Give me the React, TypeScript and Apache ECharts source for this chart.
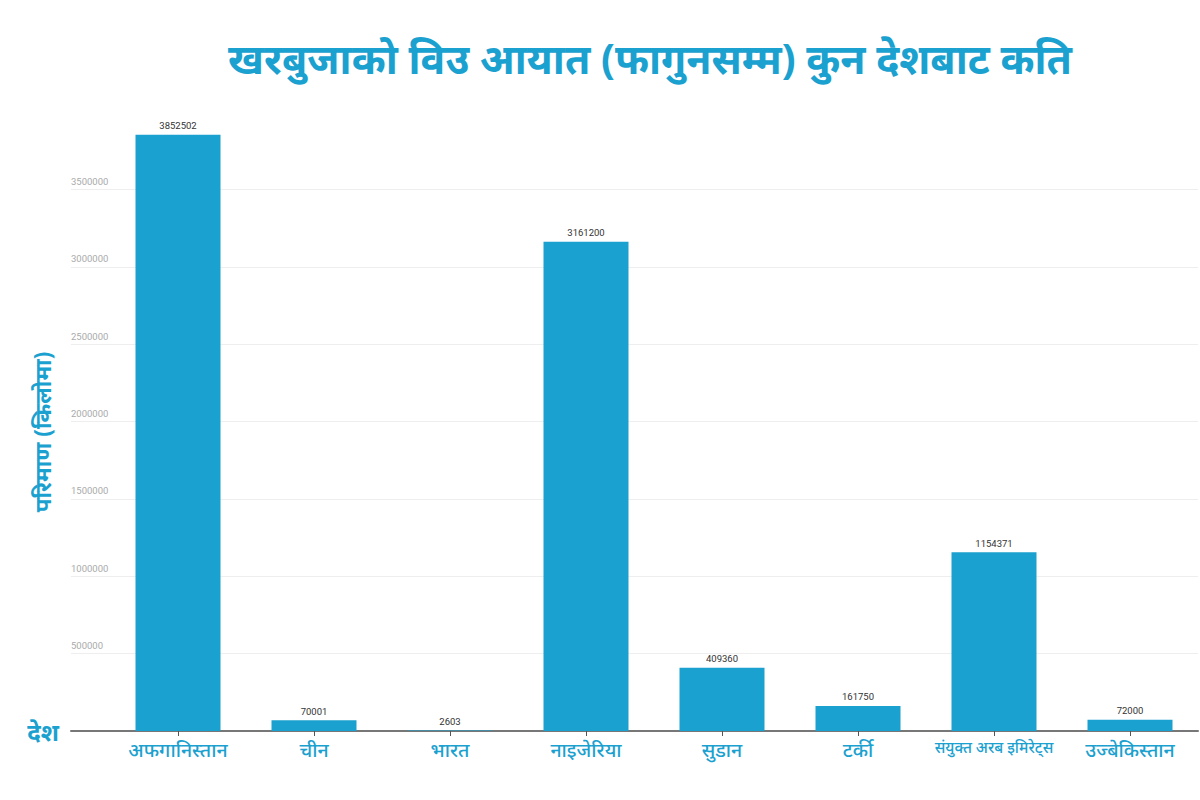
import React, { useEffect, useRef } from "react";
import * as echarts from "echarts";

const countries = [
  "अफगानिस्तान",
  "चीन",
  "भारत",
  "नाइजेरिया",
  "सुडान",
  "टर्की",
  "संयुक्त अरब इमिरेट्स",
  "उज्बेकिस्तान",
];
const quantities = [3852502, 70001, 2603, 3161200, 409360, 161750, 1154371, 72000];

const titleText = "खरबुजाको विउ आयात (फागुनसम्म) कुन देशबाट कति";
const yAxisTitle = "परिमाण (किलोमा)";
const xAxisTitle = "देश";

const BLUE = "#1ba1cf";
const DEVA = "'Noto Sans', 'Noto Sans Devanagari', Lohit, sans-serif";

export default function App() {
  const ref = useRef<HTMLDivElement>(null);

  useEffect(() => {
    if (!ref.current) return;
    const chart = echarts.init(ref.current, undefined, { renderer: "svg" });
    chart.setOption({
      animation: false,
      backgroundColor: "#ffffff",
      title: {
        text: titleText,
        left: 645,
        top: 32,
        textAlign: "center",
        textStyle: { color: BLUE, fontSize: 41, fontWeight: "bold", fontFamily: DEVA },
      },
      graphic: [
        {
          type: "text",
          x: 42,
          y: 432,
          rotation: Math.PI / 2,
          style: {
            text: yAxisTitle,
            fill: BLUE,
            font: `bold 22.5px ${DEVA}`,
            align: "center",
            verticalAlign: "middle",
          },
        },
      ],
      grid: [
        { left: 71, right: 2, top: 112, bottom: 69 },
        { left: 110, right: 2, top: 112, bottom: 69 },
      ],
      xAxis: [
        {
          type: "value",
          gridIndex: 0,
          min: 0,
          max: 1,
          name: xAxisTitle,
          nameLocation: "start",
          nameGap: 12,
          nameTextStyle: { color: BLUE, fontSize: 24, fontWeight: "bold", fontFamily: DEVA },
          axisLine: { show: true, lineStyle: { color: "#777", width: 2 } },
          axisTick: { show: false },
          axisLabel: { show: false },
          splitLine: { show: false },
        },
        {
          type: "category",
          gridIndex: 1,
          data: countries.map((c, i) =>
            i === 6 ? { value: c, textStyle: { fontSize: 15.3 } } : c
          ),
          axisLine: { show: false },
          axisTick: { show: true, alignWithLabel: true, length: 5, lineStyle: { color: "#555" } },
          axisLabel: {
            color: BLUE,
            fontSize: 19.5,
            fontWeight: 500,
            fontFamily: DEVA,
            margin: 8,
            interval: 0,
          },
          splitLine: { show: false },
        },
      ],
      yAxis: [
        {
          type: "value",
          gridIndex: 0,
          min: 0,
          max: 4000000,
          interval: 500000,
          axisLine: { show: false },
          axisTick: { show: false },
          axisLabel: {
            inside: true,
            margin: 0,
            showMinLabel: false,
            showMaxLabel: false,
            formatter: (v: number) => String(v),
            color: "#aaaaaa",
            fontSize: 9.5,
            fontFamily: "Roboto, sans-serif",
            verticalAlign: "bottom",
            padding: [0, 0, 3, 0],
          },
          splitLine: {
            show: true,
            showMaxLine: false,
            lineStyle: { color: "#eeeeee", width: 1 },
          },
        },
        {
          type: "value",
          gridIndex: 1,
          min: 0,
          max: 4000000,
          interval: 500000,
          axisLine: { show: false },
          axisTick: { show: false },
          axisLabel: { show: false },
          splitLine: { show: false },
        },
      ],
      series: [
        {
          type: "bar",
          xAxisIndex: 1,
          yAxisIndex: 1,
          data: quantities,
          barWidth: 85,
          itemStyle: { color: BLUE },
          label: {
            show: true,
            position: "top",
            distance: 4,
            color: "#333333",
            fontSize: 9.5,
            fontFamily: "Roboto, sans-serif",
          },
        },
      ],
    });
    return () => chart.dispose();
  }, []);

  return (
    <div
      ref={ref}
      style={{ position: "absolute", left: 0, top: 0, width: 1200, height: 800 }}
    />
  );
}
